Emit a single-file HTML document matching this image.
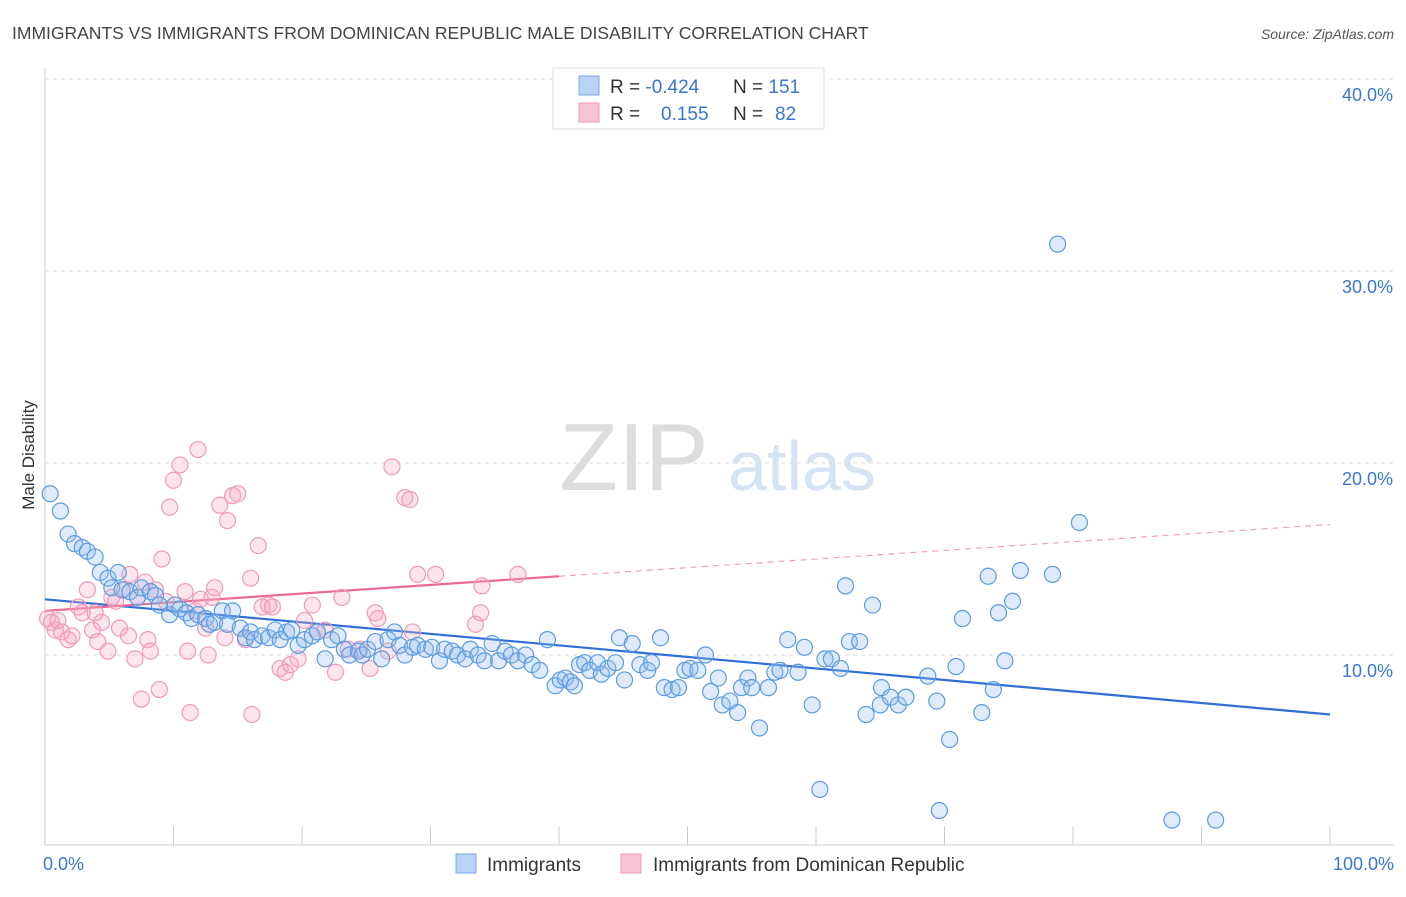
<!DOCTYPE html>
<html><head><meta charset="utf-8"><style>
body{margin:0;background:#fff;font-family:"Liberation Sans",sans-serif;}
svg text{font-family:"Liberation Sans",sans-serif;}
</style></head><body>
<svg id="chart" width="1406" height="892" xmlns="http://www.w3.org/2000/svg">
<text x="12" y="39" font-size="17.5" fill="#444">IMMIGRANTS VS IMMIGRANTS FROM DOMINICAN REPUBLIC MALE DISABILITY CORRELATION CHART</text>
<text x="1394" y="39" font-size="14" fill="#555" font-style="italic" text-anchor="end">Source: ZipAtlas.com</text>
<text x="634" y="490" font-size="96" fill="#ddd" font-family="Liberation Serif" text-anchor="middle">ZIP</text>
<text x="802" y="490" font-size="70" fill="#d5e3f3" text-anchor="middle">atlas</text>
<text transform="translate(34,455) rotate(-90)" font-size="17" fill="#333" text-anchor="middle">Male Disability</text>
<g id="grid"></g><g id="axes"></g><g id="trends"></g><g id="pts"></g>
<g>
<rect x="553" y="68" width="271" height="61" fill="#fff" stroke="#ddd"/>
<rect x="579" y="76" width="20" height="19" fill="#b8d3f5" stroke="#7aa8e6"/>
<rect x="579" y="103" width="20" height="19" fill="#f9c4d5" stroke="#f09ab8"/>
<text x="610" y="93" font-size="19" fill="#333">R = <tspan fill="#3a76d0">-0.424</tspan></text>
<text x="733" y="93" font-size="19" fill="#333">N = <tspan fill="#3a76d0">151</tspan></text>
<text x="610" y="120" font-size="19" fill="#333">R = <tspan fill="#3a76d0" x="661">0.155</tspan></text>
<text x="733" y="120" font-size="19" fill="#333">N = <tspan fill="#3a76d0" x="775">82</tspan></text>
</g>
<g>
<rect x="456" y="854" width="20" height="19" fill="#b8d3f5" stroke="#7aa8e6"/>
<text x="487" y="871" font-size="19" fill="#333">Immigrants</text>
<rect x="621" y="854" width="20" height="19" fill="#f9c4d5" stroke="#f09ab8"/>
<text x="653" y="871" font-size="19" fill="#333">Immigrants from Dominican Republic</text>
</g>
</svg>
<script>
const yTicks=[10,20,30,40];
const yTickLabels=["10.0%","20.0%","30.0%","40.0%"];
const xTickLabels=["0.0%","100.0%"];
const blueX=[0.4,1.2,1.8,2.3,2.9,3.3,3.9,4.3,4.9,5.2,5.7,6.0,6.6,7.2,7.5,8.2,8.6,8.9,9.7,10.1,10.5,11.0,11.4,11.9,12.5,12.8,13.2,13.8,14.2,14.6,15.2,15.6,16.0,16.3,16.9,17.4,17.9,18.3,18.8,19.2,19.7,20.2,20.8,21.2,21.8,22.3,22.8,23.3,23.7,24.4,24.7,25.1,25.7,26.2,26.7,27.2,27.6,28.0,28.6,29.0,29.6,30.1,30.7,31.1,31.7,32.1,32.7,33.1,33.7,34.2,34.8,35.3,35.8,36.3,36.8,37.4,37.9,38.5,39.1,39.7,40.1,40.5,40.9,41.2,41.6,42.0,42.4,43.0,43.3,43.8,44.4,44.7,45.1,45.7,46.3,46.9,47.2,47.9,48.2,48.8,49.3,49.8,50.2,50.8,51.4,51.8,52.4,52.7,53.3,53.9,54.2,54.7,55.0,55.6,56.3,56.8,57.2,57.8,58.6,59.1,59.7,60.3,60.7,61.2,61.9,62.3,62.6,63.4,63.9,64.4,65.0,65.1,65.8,66.4,67.0,68.7,69.4,69.6,70.4,70.9,71.4,72.9,73.4,73.8,74.2,74.7,75.3,75.9,78.4,78.8,80.5,87.7,91.1];
const blueY=[18.4,17.5,16.3,15.8,15.6,15.4,15.1,14.3,14.0,13.5,14.3,13.4,13.3,13.0,13.5,13.3,13.1,12.6,12.1,12.6,12.4,12.2,11.9,12.1,11.9,11.6,11.7,12.3,11.6,12.3,11.4,10.9,11.2,10.8,11.0,10.9,11.3,10.8,11.2,11.3,10.5,10.8,11.0,11.2,9.8,10.8,11.0,10.3,10.0,10.2,10.0,10.3,10.7,9.8,10.8,11.2,10.5,10.0,10.4,10.5,10.3,10.4,9.7,10.3,10.2,10.0,9.8,10.3,10.0,9.7,10.6,9.7,10.2,10.0,9.7,10.0,9.5,9.2,10.8,8.4,8.7,8.8,8.6,8.4,9.5,9.6,9.2,9.6,9.0,9.3,9.6,10.9,8.7,10.6,9.5,9.2,9.6,10.9,8.3,8.2,8.3,9.2,9.3,9.2,10.0,8.1,8.8,7.4,7.6,7.0,8.3,8.8,8.3,6.2,8.3,9.1,9.2,10.8,9.1,10.4,7.4,3.0,9.8,9.8,9.3,13.6,10.7,10.7,6.9,12.6,7.4,8.3,7.8,7.4,7.8,8.9,7.6,1.9,5.6,9.4,11.9,7.0,14.1,8.2,12.2,9.7,12.8,14.4,14.2,31.4,16.9,1.4,1.4];
const pinkX=[0.2,0.5,0.8,1.0,1.3,1.8,2.1,2.6,2.9,3.3,3.7,3.9,4.1,4.4,4.9,5.2,5.5,5.8,6.2,6.5,6.6,7.0,7.2,7.5,7.8,8.0,8.2,8.6,8.9,9.1,9.4,9.7,10.0,10.5,10.9,11.1,11.3,11.7,11.9,12.1,12.5,12.7,13.0,13.2,13.6,14.0,14.2,14.6,15.0,15.6,16.0,16.1,16.6,16.9,17.4,17.7,18.3,18.7,19.1,19.7,20.2,20.8,21.2,21.8,22.6,23.1,23.6,24.5,25.3,25.7,25.9,26.7,27.0,28.0,28.4,28.6,29.0,30.4,33.5,33.9,34.0,36.8];
const pinkY=[11.9,11.7,11.3,11.8,11.2,10.8,11.0,12.5,12.2,13.4,11.3,12.2,10.7,11.7,10.2,13.0,12.8,11.4,13.4,11.0,14.2,9.8,13.0,7.7,13.8,10.8,10.2,13.4,8.2,15.0,12.8,17.7,19.1,19.9,13.3,10.2,7.0,12.3,20.7,12.9,11.4,10.0,13.0,13.5,17.8,10.9,17.0,18.3,18.4,10.8,14.0,6.9,15.7,12.5,12.6,12.5,9.3,9.1,9.5,9.8,11.8,12.6,11.2,11.3,9.1,13.0,10.3,10.3,9.3,12.2,11.9,10.2,19.8,18.2,18.1,11.2,14.2,14.2,11.6,12.2,13.6,14.2];
const blueTrend=[12.9,6.9];
const pinkTrend=[12.3,16.8];
const pinkSolidEnd=40;
const NS="http://www.w3.org/2000/svg";
const X0=45,X1=1330,YB=847,PX=19.2;
const sx=v=>X0+(X1-X0)*v/100, sy=v=>YB-v*PX;
function mk(tag,attrs,parent){const e=document.createElementNS(NS,tag);for(const k in attrs)e.setAttribute(k,attrs[k]);document.getElementById(parent).appendChild(e);return e;}
yTicks.forEach((t,i)=>{
 const l=mk('line',{x1:X0,x2:1394,y1:sy(t),y2:sy(t),stroke:'#ddd','stroke-dasharray':'4,4'},'grid');
 
 
 const tx=mk('text',{x:1393,y:sy(t)+22,'font-size':18,fill:'#3a76d0','text-anchor':'end'},'grid');
 tx.textContent=yTickLabels[i];
 
 
});
const ax=mk('line',{x1:X0,x2:1394,y1:845,y2:845,stroke:'#ccc'},'axes');


const ay=mk('line',{x1:X0,x2:X0,y1:68,y2:845,stroke:'#ccc'},'axes');


for(let i=0;i<=10;i++){const t=mk('line',{x1:sx(i*10),x2:sx(i*10),y1:826,y2:845,stroke:'#ccc'},'axes');
 
 }
[[0,'start',X0-2],[100,'end',1394]].forEach((d,i)=>{const t=mk('text',{x:d[2],y:870,'font-size':18,fill:'#3a76d0','text-anchor':d[1]},'axes');t.textContent=xTickLabels[i];
 
 });
function dot(x,y,f,s,n){const c=mk('circle',{cx:sx(x),cy:sy(y),r:8,fill:f,stroke:s,'stroke-width':1.2},'pts');
 
 }
pinkX.forEach((x,i)=>dot(x,pinkY[i],'rgba(246,170,196,0.3)','#f09ab8','pink-point'));
blueX.forEach((x,i)=>dot(x,blueY[i],'rgba(150,190,240,0.3)','#5b9be0','blue-point'));
const bt=mk('line',{x1:sx(0),y1:sy(blueTrend[0]),x2:sx(100),y2:sy(blueTrend[1]),stroke:'#2f6fd6','stroke-width':2.2},'trends');


const pe=pinkTrend[0]+(pinkTrend[1]-pinkTrend[0])*pinkSolidEnd/100;
const pt=mk('line',{x1:sx(0),y1:sy(pinkTrend[0]),x2:sx(pinkSolidEnd),y2:sy(pe),stroke:'#e86a95','stroke-width':2.2},'trends');


const pd=mk('line',{x1:sx(pinkSolidEnd),y1:sy(pe),x2:sx(100),y2:sy(pinkTrend[1]),stroke:'#f0a0bb','stroke-width':1.2,'stroke-dasharray':'6,5'},'trends');


</script>
</body></html>
